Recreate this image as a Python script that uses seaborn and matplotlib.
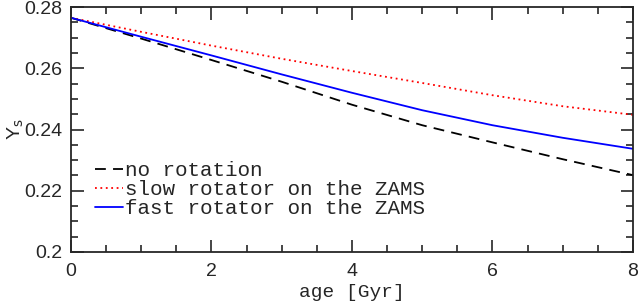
import pandas as pd
import matplotlib.pyplot as plt
import seaborn as sns
from matplotlib.ticker import MultipleLocator

# ages in Gyr and surface helium for the three models
age = [0, 1, 2, 3, 4, 5, 6, 7, 8]
no_rot = [0.2765, 0.2697, 0.2627, 0.2556, 0.2481, 0.2414, 0.2358, 0.2303, 0.2251]
slow_rot = [0.2765, 0.2719, 0.2674, 0.2631, 0.2591, 0.2552, 0.2512, 0.2476, 0.2448]
fast_rot = [0.2765, 0.2703, 0.2642, 0.2580, 0.2520, 0.2463, 0.2414, 0.2373, 0.2337]

labels = ["no rotation", "slow rotator on the ZAMS", "fast rotator on the ZAMS"]

df = pd.concat([
    pd.DataFrame({"age": age, "Ys": no_rot, "model": labels[0]}),
    pd.DataFrame({"age": age, "Ys": slow_rot, "model": labels[1]}),
    pd.DataFrame({"age": age, "Ys": fast_rot, "model": labels[2]}),
])

sns.set_style("ticks")
plt.rcParams["font.family"] = ["Liberation Sans", "DejaVu Sans"]

fig = plt.figure(figsize=(6.39, 3.06), dpi=100)
ax = fig.add_axes([0.111, 0.1765, 0.8796, 0.8005])

palette = {labels[0]: "black", labels[1]: "red", labels[2]: "blue"}
dashes = {labels[0]: (6, 4), labels[1]: (1, 2), labels[2]: ""}
sns.lineplot(data=df, x="age", y="Ys", hue="model", style="model",
             palette=palette, dashes=dashes, linewidth=1.3, ax=ax)

ax.set_xlim(0, 8)
ax.set_ylim(0.2, 0.28)
ax.xaxis.set_major_locator(MultipleLocator(2))
ax.xaxis.set_minor_locator(MultipleLocator(0.5))
ax.yaxis.set_major_locator(MultipleLocator(0.02))
ax.yaxis.set_minor_locator(MultipleLocator(0.005))
ax.yaxis.set_major_formatter(plt.FuncFormatter(lambda v, p: f"{v:.2f}".rstrip("0")))
ax.tick_params(which="both", direction="in", top=True, right=True, width=1.2)
ax.tick_params(which="major", length=9, labelsize=14)
ax.tick_params(which="minor", length=5)
ax.tick_params(axis="x", pad=8)
ax.tick_params(axis="y", pad=6)
for s in ax.spines.values():
    s.set_linewidth(1.3)

ax.set_xlabel("age [Gyr]", family="Liberation Mono", fontsize=14, labelpad=3)
ax.set_ylabel(r"Y$_{\rm s}$", fontsize=14, labelpad=-1)

leg = ax.legend(loc="upper left", bbox_to_anchor=(0.043, 0.37), frameon=False,
                handlelength=1.35, handletextpad=0.1, borderpad=0, borderaxespad=0,
                labelspacing=0.0, prop={"family": "Liberation Mono", "size": 15})

plt.savefig("out.png", dpi=100)
